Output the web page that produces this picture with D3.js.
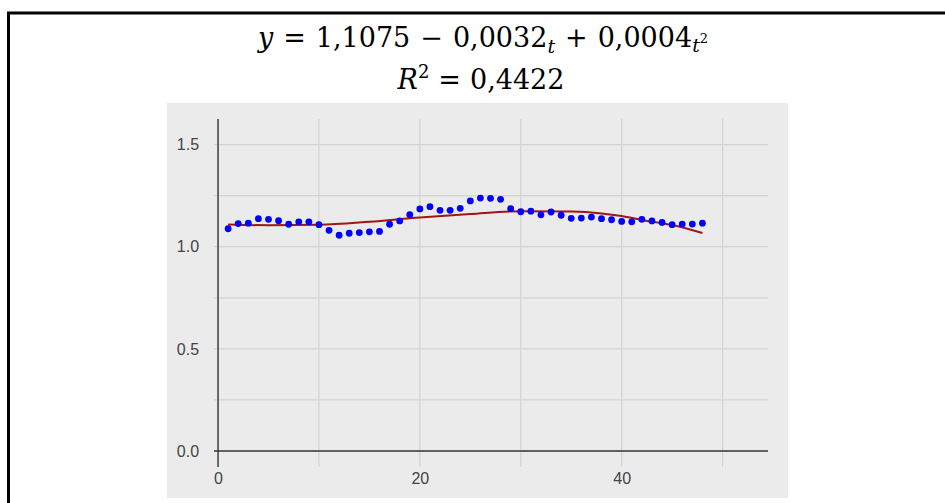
<!DOCTYPE html>
<html>
<head>
<meta charset="utf-8">
<script src="https://cdn.jsdelivr.net/npm/d3@7"></script>
<style>
  body { margin: 0; background: #fff; }
  svg { display: block; }
</style>
</head>
<body>
<div id="chart"></div>
<script>
// observed series, t = 1..48
var tValues = d3.range(1, 49);
var observed = [
  1.088, 1.113, 1.115, 1.137, 1.134, 1.127, 1.110, 1.122, 1.122, 1.108,
  1.080, 1.056, 1.066, 1.069, 1.073, 1.075, 1.110, 1.126, 1.157, 1.185,
  1.196, 1.178, 1.178, 1.188, 1.224, 1.238, 1.237, 1.232, 1.186, 1.171,
  1.174, 1.156, 1.170, 1.154, 1.139, 1.140, 1.145, 1.137, 1.132, 1.124,
  1.122, 1.134, 1.126, 1.119, 1.108, 1.111, 1.111, 1.115
];
// trend line
var trendT = [1, 5, 10, 15, 20, 25, 30, 35, 38, 40, 42, 45, 48];
var trendY = [1.109, 1.105, 1.107, 1.122, 1.143, 1.160, 1.174, 1.172, 1.163, 1.150, 1.131, 1.106, 1.067];

var yTicks = [0, 0.5, 1, 1.5];
var yGrid = [0.25, 0.5, 0.75, 1, 1.25, 1.5];
var xTicks = [0, 20, 40];
var xGrid = [10, 20, 30, 40, 50];

var W = 945, H = 503;
var svg = d3.select("#chart").append("svg").attr("width", W).attr("height", H);

// frame
svg.append("path")
  .attr("d", "M8.5,503 L8.5,13 L945,13")
  .attr("fill", "none")
  .attr("stroke", "#000")
  .attr("stroke-width", 3);

// title equation
var mathFont = "DejaVu Serif, serif";
var eq = svg.append("text")
  .attr("x", 483).attr("y", 47)
  .attr("text-anchor", "middle")
  .attr("font-family", mathFont)
  .attr("font-size", 27)
  .attr("fill", "#000");
eq.append("tspan").attr("font-style", "italic").text("y");
eq.append("tspan").attr("dx", 10).text("=");
eq.append("tspan").attr("dx", 10).text("1,1075");
eq.append("tspan").attr("dx", 10).text("\u2212");
eq.append("tspan").attr("dx", 10).text("0,0032");
eq.append("tspan").attr("font-style", "italic").attr("font-size", 19).attr("dy", 6).text("t");
eq.append("tspan").attr("dx", 10).attr("dy", -6).text("+");
eq.append("tspan").attr("dx", 10).text("0,0004");
eq.append("tspan").attr("font-style", "italic").attr("font-size", 19).attr("dy", 5).text("t");
eq.append("tspan").attr("font-size", 13).attr("dy", -9).text("2");

var r2 = svg.append("text")
  .attr("x", 481).attr("y", 89)
  .attr("text-anchor", "middle")
  .attr("font-family", mathFont)
  .attr("font-size", 27)
  .attr("fill", "#000");
r2.append("tspan").attr("font-style", "italic").text("R");
r2.append("tspan").attr("font-size", 18).attr("dy", -11).text("2");
r2.append("tspan").attr("dx", 9).attr("dy", 11).text("=");
r2.append("tspan").attr("dx", 9).text("0,4422");

// panel
svg.append("rect")
  .attr("x", 167).attr("y", 103)
  .attr("width", 621).attr("height", 395)
  .attr("fill", "#ebebeb");

var x = d3.scaleLinear().domain([-0.4, 54.5]).range([214, 768]);
var y = d3.scaleLinear().domain([-0.078, 1.625]).range([467, 119]);

var g = svg.append("g");

g.selectAll(".vgrid").data(xGrid).enter().append("line")
  .attr("x1", function (d) { return x(d); })
  .attr("x2", function (d) { return x(d); })
  .attr("y1", y.range()[1]).attr("y2", y.range()[0])
  .attr("stroke", "#d3d3d3").attr("stroke-width", 1.2);

g.selectAll(".hgrid").data(yGrid).enter().append("line")
  .attr("x1", x.range()[0]).attr("x2", x.range()[1])
  .attr("y1", function (d) { return y(d); })
  .attr("y2", function (d) { return y(d); })
  .attr("stroke", "#d3d3d3").attr("stroke-width", 1.2);

// axes
var yAxis = d3.axisLeft(y).tickValues(yTicks).tickFormat(d3.format(".1f")).tickSize(0).tickPadding(19);
var xAxis = d3.axisBottom(x).tickValues(xTicks).tickFormat(d3.format("d")).tickSize(0).tickPadding(22);

var ya = g.append("g").attr("transform", "translate(" + x(0) + ",0)").call(yAxis);
var xa = g.append("g").attr("transform", "translate(0," + y(0) + ")").call(xAxis);
[ya, xa].forEach(function (a) {
  a.select(".domain").remove();
  a.selectAll("text")
    .attr("fill", "#444")
    .attr("font-family", "Liberation Sans, Arial, sans-serif")
    .attr("font-size", 16);
});

g.append("line")
  .attr("x1", x.range()[0]).attr("x2", x.range()[1])
  .attr("y1", y(0)).attr("y2", y(0))
  .attr("stroke", "#333").attr("stroke-width", 1.4);
g.append("line")
  .attr("x1", x(0)).attr("x2", x(0))
  .attr("y1", y.range()[1]).attr("y2", y.range()[0])
  .attr("stroke", "#333").attr("stroke-width", 1.4);

// trend line
var trend = trendT.map(function (t, i) { return [t, trendY[i]]; });
g.append("path")
  .datum(trend)
  .attr("d", d3.line()
    .x(function (d) { return x(d[0]); })
    .y(function (d) { return y(d[1]); })
    .curve(d3.curveMonotoneX))
  .attr("fill", "none")
  .attr("stroke", "#a31515")
  .attr("stroke-width", 2);

// points
g.selectAll(".pt").data(observed).enter().append("circle")
  .attr("cx", function (d, i) { return x(tValues[i]); })
  .attr("cy", function (d) { return y(d); })
  .attr("r", 3.4)
  .attr("fill", "#0000ff");
</script>
</body>
</html>
